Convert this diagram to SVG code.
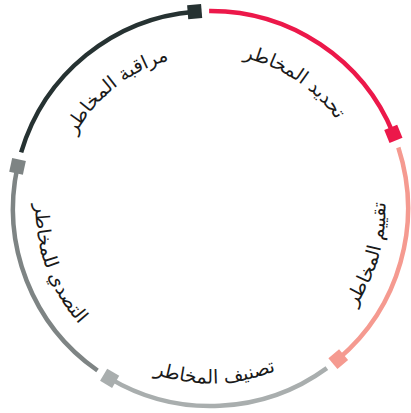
<svg xmlns="http://www.w3.org/2000/svg" xmlns:xlink="http://www.w3.org/1999/xlink" width="411" height="413" viewBox="0 0 411 413">
<style>
.arc{fill:none;stroke-width:4.5}
.lbl{font-family:"DejaVu Sans",sans-serif;font-size:19px;fill:#1a1a1a}
</style>
<defs>
<rect id="sq" x="-7" y="-7" width="14" height="14"/>
<path id="p1" d="M141.79,70.68 A154,154 0 0 1 364.21,217.90"/>
<path id="p2" d="M252.84,378.30 A175,175 0 0 0 336.38,86.93"/>
<path id="p3" d="M61.29,299.94 A175,175 0 0 0 364.29,292.0"/>
<path id="p4" d="M76.44,96.01 A175,175 0 0 0 180.11,380.84"/>
<path id="p5" d="M58.19,231.26 A154,154 0 0 1 266.94,65.22"/>
</defs>
<rect width="411" height="413" fill="#ffffff"/>
<g id="connectors">
<path class="arc" stroke="#ec184a" d="M209.12,11.0 A197.5,197.5 0 0 1 393.36,133.88"/>
<path class="arc" stroke="#f59a90" d="M398.33,147.47 A197.5,197.5 0 0 1 338.24,359.13"/>
<path class="arc" stroke="#a9aeae" d="M326.87,368.08 A197.5,197.5 0 0 1 109.65,378.31"/>
<path class="arc" stroke="#7e8484" d="M97.5,370.48 A197.5,197.5 0 0 1 17.53,166.43"/>
<path class="arc" stroke="#263232" d="M21.13,152.41 A197.5,197.5 0 0 1 194.66,11.64"/>
</g>
<g id="node-identify">
<use href="#sq" fill="#ec184a" transform="translate(393.36,133.88) rotate(67.8)"/>
<text class="lbl" text-anchor="middle"><textPath href="#p1" startOffset="50%">تحديد المخاطر</textPath></text>
</g>
<g id="node-assess">
<use href="#sq" fill="#f59a90" transform="translate(338.24,359.13) rotate(139.7)"/>
<text class="lbl" text-anchor="middle"><textPath href="#p2" startOffset="50%">تقييم المخاطر</textPath></text>
</g>
<g id="node-classify">
<use href="#sq" fill="#a9aeae" transform="translate(109.65,378.31) rotate(210.7)"/>
<text class="lbl" text-anchor="middle"><textPath href="#p3" startOffset="50%">تصنيف المخاطر</textPath></text>
</g>
<g id="node-respond">
<use href="#sq" fill="#7e8484" transform="translate(17.53,166.43) rotate(282.3)"/>
<text class="lbl" text-anchor="middle"><textPath href="#p4" startOffset="50%">التصدي للمخاطر</textPath></text>
</g>
<g id="node-monitor">
<use href="#sq" fill="#263232" transform="translate(194.66,11.64) rotate(-4.6)"/>
<text class="lbl" text-anchor="middle"><textPath href="#p5" startOffset="50%">مراقبة المخاطر</textPath></text>
</g>
</svg>
